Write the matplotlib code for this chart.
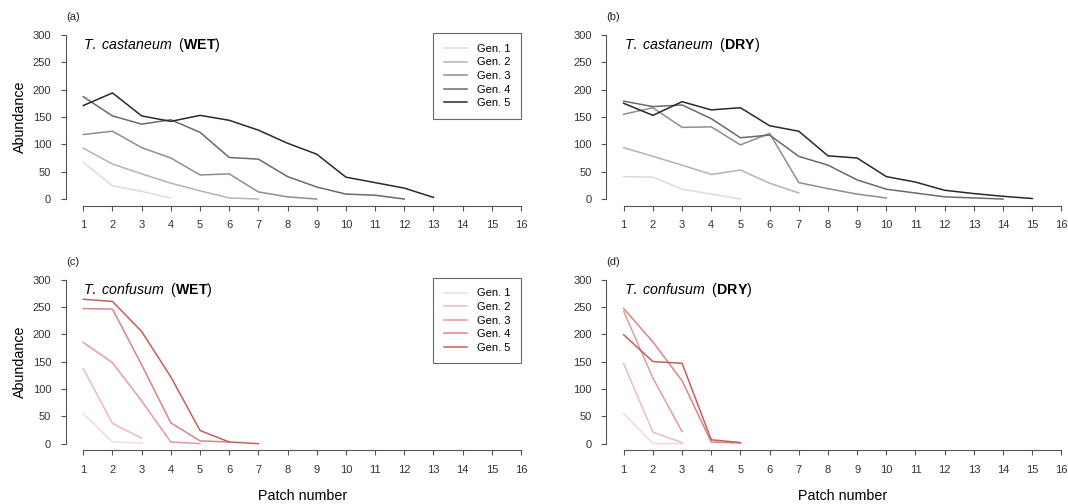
import matplotlib.pyplot as plt

plt.rcParams['font.family'] = 'Liberation Sans'
plt.rcParams['mathtext.fontset'] = 'custom'
plt.rcParams['mathtext.rm'] = 'Liberation Sans'
plt.rcParams['mathtext.it'] = 'Liberation Sans:italic'
plt.rcParams['mathtext.bf'] = 'Liberation Sans:bold'

gen_labels = ['Gen. 1', 'Gen. 2', 'Gen. 3', 'Gen. 4', 'Gen. 5']
patch_ticks = list(range(1, 17))
abund_ticks = [0, 50, 100, 150, 200, 250, 300]

# (a) T. castaneum, wet
cast_wet = [
    [67, 24, 14, 2],
    [93, 64, 46, 29, 15, 2, 0],
    [118, 124, 94, 75, 44, 46, 13, 4, 0],
    [187, 152, 137, 145, 122, 76, 73, 41, 22, 9, 7, 0],
    [171, 194, 152, 142, 153, 144, 126, 102, 82, 40, 30, 20, 3],
]
# (b) T. castaneum, dry
cast_dry = [
    [41, 40, 18, 9, 0],
    [94, 78, 62, 45, 53, 29, 11],
    [155, 167, 131, 132, 99, 120, 30, 19, 9, 2],
    [179, 169, 172, 147, 112, 117, 78, 62, 35, 18, 11, 4, 2, 0],
    [175, 153, 178, 163, 167, 134, 124, 79, 75, 41, 31, 16, 10, 5, 1],
]
# (c) T. confusum, wet
conf_wet = [
    [55, 3, 1],
    [137, 37, 10],
    [185, 148, 78, 3, 0],
    [247, 246, 144, 38, 5, 3],
    [264, 260, 205, 122, 24, 3, 0],
]
# (d) T. confusum, dry
conf_dry = [
    [55, 0, 0],
    [146, 21, 2],
    [242, 120, 22],
    [247, 186, 115, 3, 1],
    [199, 150, 147, 7, 2],
]

grays = ['#dcdcdc', '#b4b4b4', '#8e8e8e', '#6a6a6a', '#2a2a2a']
reds = ['#f5dada', '#ecbcbc', '#e29c9c', '#d98585', '#c65e5e']

W, H = 1068, 504
fig = plt.figure(figsize=(W / 100, H / 100), dpi=100)


def make_axes(left_px, bottom_px):
    # axes box in pixels, R-like 4% padding around data range
    width_px, height_px = 472.7, 177.2
    return fig.add_axes([left_px / W, (H - bottom_px) / H, width_px / W, height_px / H])


panels = [
    (make_axes(65.8, 205.6), cast_wet, grays, 'T.\\ castaneum', 'WET', '(a)', True, False),
    (make_axes(606.2, 205.6), cast_dry, grays, 'T.\\ castaneum', 'DRY', '(b)', False, False),
    (make_axes(65.8, 450.2), conf_wet, reds, 'T.\\ confusum', 'WET', '(c)', True, True),
    (make_axes(606.2, 450.2), conf_dry, reds, 'T.\\ confusum', 'DRY', '(d)', False, True),
]

for ax, data, cols, species, cond, tag, left_col, bottom_row in panels:
    for vals, col, lab in zip(data, cols, gen_labels):
        ax.plot(range(1, len(vals) + 1), vals, color=col, lw=1.1, label=lab)
    ax.set_xlim(0.4, 16.6)
    ax.set_ylim(-12, 312)
    ax.set_xticks(patch_ticks)
    ax.set_yticks(abund_ticks)
    for s in ['top', 'right']:
        ax.spines[s].set_visible(False)
    ax.spines['left'].set_bounds(0, 300)
    ax.spines['bottom'].set_bounds(1, 16)
    for s in ['left', 'bottom']:
        ax.spines[s].set_color('#555555')
        ax.spines[s].set_linewidth(0.8)
    ax.tick_params(direction='out', length=3.5, width=0.8, color='#555555',
                   labelsize=8, labelcolor='#333333', pad=7)
    ax.text(1, 281, r'$\mathit{' + species + r'}$  ($\mathbf{' + cond + r'}$)',
            fontsize=10.2, va='center', ha='left')
    ax.text(0.0, 1.062, tag, transform=ax.transAxes, fontsize=8, color='#222222',
            va='center', ha='left')
    if left_col:
        ax.set_ylabel('Abundance', fontsize=10.3, labelpad=4)
        ax.legend(loc='upper right', bbox_to_anchor=(16, 303), bbox_transform=ax.transData,
                  fontsize=8, frameon=True, fancybox=False, edgecolor='#444444',
                  handlelength=2.1, handletextpad=0.9, labelspacing=0.32,
                  borderpad=0.95, borderaxespad=0).get_frame().set_linewidth(0.8)
    if bottom_row:
        ax.set_xlabel('Patch number', fontsize=10.3, labelpad=10)

fig.savefig('out.png', dpi=100)
